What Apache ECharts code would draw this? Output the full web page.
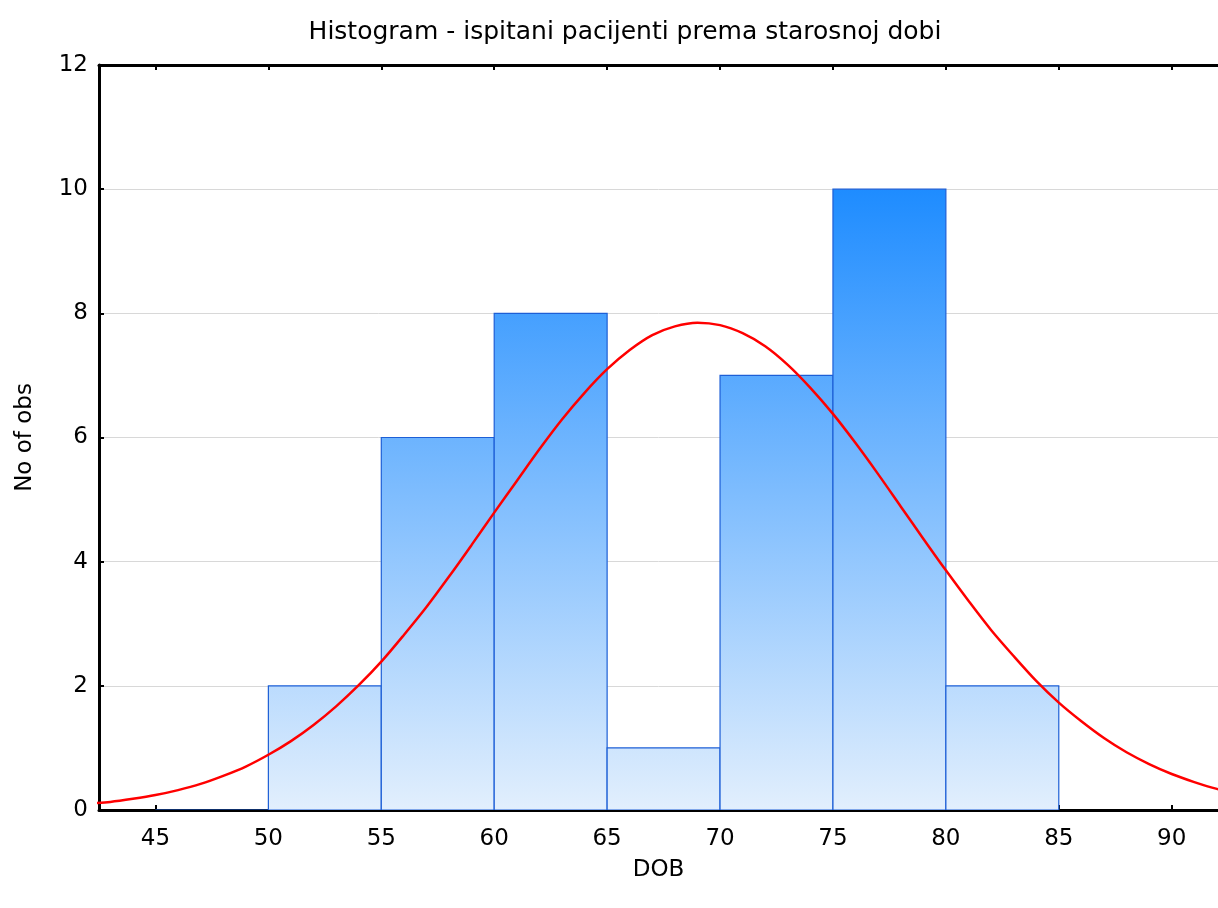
<!DOCTYPE html>
<html>
<head>
<meta charset="utf-8">
<script src="https://cdn.jsdelivr.net/npm/echarts@6/dist/echarts.min.js"></script>
<style>
html,body{margin:0;padding:0;background:#fff;}
#chart{width:1218px;height:908px;}
</style>
</head>
<body>
<div id="chart"></div>
<script>
// Histogram bins (DOB, years) and counts
var binStart = [45, 50, 55, 60, 65, 70, 75, 80];
var binEnd   = [50, 55, 60, 65, 70, 75, 80, 85];
var counts   = [0, 2, 6, 8, 1, 7, 10, 2];

// Expected normal curve (one per year)
var curveX = [42, 43, 44, 45, 46, 47, 48, 49, 50, 51, 52, 53, 54, 55, 56, 57, 58, 59, 60, 61, 62, 63, 64, 65, 66, 67,
              68, 69, 70, 71, 72, 73, 74, 75, 76, 77, 78, 79, 80, 81, 82, 83, 84, 85, 86, 87, 88, 89, 90, 91, 92, 93];
var curveY = [0.10, 0.13, 0.18, 0.24, 0.32, 0.42, 0.55, 0.70, 0.89, 1.11, 1.37, 1.67, 2.01, 2.39, 2.82, 3.27, 3.76, 4.27,
              4.79, 5.30, 5.81, 6.29, 6.72, 7.10, 7.41, 7.65, 7.79, 7.85, 7.81, 7.68, 7.47, 7.17, 6.80, 6.38, 5.91, 5.41,
              4.89, 4.37, 3.86, 3.37, 2.90, 2.48, 2.08, 1.73, 1.43, 1.16, 0.93, 0.74, 0.58, 0.45, 0.34, 0.26];

var xTicks = [45, 50, 55, 60, 65, 70, 75, 80, 85, 90];

var titleText = 'Histogram - ispitani pacijenti prema starosnoj dobi';
var xName = 'DOB';
var yName = 'No of obs';

var FONT = 'DejaVu Sans, Liberation Sans, Arial, sans-serif';

var binData = binStart.map(function (s, i) { return [s, binEnd[i], counts[i]]; });
var curveData = curveX.map(function (x, i) { return [x, curveY[i]]; });

var chart = echarts.init(document.getElementById('chart'), null, {renderer: 'canvas'});

var option = {
  animation: false,
  backgroundColor: '#ffffff',
  title: {
    text: titleText,
    left: 620, top: 15, textAlign: 'center',
    textStyle: {fontFamily: FONT, fontSize: 25, fontWeight: 'normal', color: '#000'}
  },
  grid: {left: 99, right: 0, top: 65, bottom: 98, containLabel: false},
  xAxis: [{
    type: 'value', min: 42.5, max: 92.05, position: 'bottom',
    name: xName, nameLocation: 'middle', nameGap: 49,
    nameTextStyle: {fontFamily: FONT, fontSize: 23, color: '#000'},
    axisLine: {show: true, onZero: false, lineStyle: {color: '#000', width: 3}},
    axisTick: {show: true, inside: true, length: 5, customValues: xTicks, lineStyle: {color: '#000', width: 2}},
    axisLabel: {customValues: xTicks, margin: 18, fontFamily: FONT, fontSize: 23, color: '#000'},
    splitLine: {show: false}
  }, {
    type: 'value', min: 42.5, max: 92.05, position: 'top',
    axisLine: {show: true, onZero: false, lineStyle: {color: '#000', width: 3}},
    axisTick: {show: true, inside: true, length: 5, customValues: xTicks, lineStyle: {color: '#000', width: 2}},
    axisLabel: {show: false},
    splitLine: {show: false}
  }],
  yAxis: {
    type: 'value', min: 0, max: 12, interval: 2,
    name: yName, nameLocation: 'middle', nameGap: 62, nameRotate: 90,
    nameTextStyle: {fontFamily: FONT, fontSize: 23, color: '#000'},
    axisLine: {show: true, lineStyle: {color: '#000', width: 3}},
    axisTick: {show: true, inside: true, length: 5, lineStyle: {color: '#000', width: 2}},
    axisLabel: {margin: 11, fontFamily: FONT, fontSize: 23, color: '#000'},
    splitLine: {show: true, lineStyle: {color: '#d8d8d8', width: 1}}
  },
  series: [{
    type: 'custom',
    xAxisIndex: 0,
    data: binData,
    z: 2,
    clip: true,
    renderItem: function (params, api) {
      var p0 = api.coord([api.value(0), api.value(2)]);
      var p1 = api.coord([api.value(1), 0]);
      var yTop = api.coord([0, 10])[1];
      var yBot = api.coord([0, 0])[1];
      return {
        type: 'rect',
        shape: {x: p0[0], y: p0[1], width: p1[0] - p0[0], height: p1[1] - p0[1]},
        style: {
          fill: {
            type: 'linear', x: 0, y: yTop, x2: 0, y2: yBot, global: true,
            colorStops: [{offset: 0, color: '#1e8cff'}, {offset: 1, color: '#e2effd'}]
          },
          stroke: '#1d5fd6',
          lineWidth: 1.2
        }
      };
    },
    encode: {x: [0, 1], y: 2}
  }, {
    type: 'line',
    xAxisIndex: 0,
    data: curveData,
    smooth: 0.3,
    showSymbol: false,
    symbol: 'none',
    z: 5,
    clip: true,
    lineStyle: {color: '#ff0000', width: 2.5}
  }]
};

chart.setOption(option);
</script>
</body>
</html>
